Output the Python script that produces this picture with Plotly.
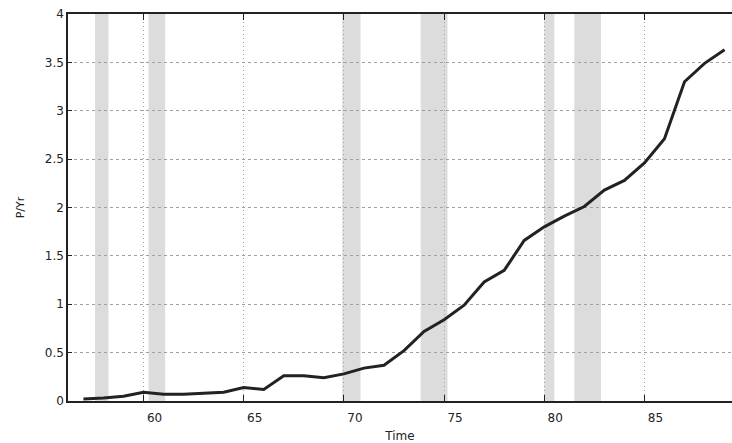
import plotly.graph_objects as go

# Annual series (years 19xx)
years = list(range(57, 90))
p_per_yr = [0.02, 0.03, 0.05, 0.09, 0.07, 0.07, 0.08, 0.09, 0.14, 0.12,
            0.26, 0.26, 0.24, 0.28, 0.34, 0.37, 0.52, 0.72, 0.84, 0.99,
            1.23, 1.35, 1.66, 1.80, 1.91, 2.01, 2.18, 2.28, 2.46, 2.71,
            3.30, 3.49, 3.63]

# Shaded periods (recessions), fractional years
shade_start = [57.58, 60.25, 69.92, 73.83, 80.00, 81.50]
shade_end = [58.25, 61.08, 70.83, 75.17, 80.50, 82.83]

x_ticks = [60, 65, 70, 75, 80, 85]
y_ticks = [0, 0.5, 1, 1.5, 2, 2.5, 3, 3.5, 4]

font_family = "DejaVu Sans, Verdana, sans-serif"

fig = go.Figure()

for s, e in zip(shade_start, shade_end):
    fig.add_shape(type="rect", xref="x", yref="paper", x0=s, x1=e, y0=0, y1=1,
                  fillcolor="#dcdcdc", line_width=0, layer="between")

fig.add_trace(go.Scatter(
    x=years, y=p_per_yr, mode="lines",
    line=dict(color="#222222", width=3),
    showlegend=False, hoverinfo="x+y",
))

fig.update_layout(
    width=732, height=443,
    margin=dict(l=68, r=0, t=14, b=42),
    paper_bgcolor="white", plot_bgcolor="white",
    font=dict(family=font_family, size=12, color="#222222"),
)

fig.update_xaxes(
    range=[56.23, 89.37],
    tickmode="array", tickvals=x_ticks, ticktext=[str(v) for v in x_ticks],
    ticks="inside", ticklen=6, tickwidth=1, tickcolor="#222222",
    ticklabelshift=11, ticklabelstandoff=5,
    showline=True, linecolor="#222222", linewidth=1.5, mirror="ticks",
    showgrid=True, gridcolor="#a0a0a0", gridwidth=1, griddash="1px,3px",
    zeroline=False,
    title=dict(text="Time", font=dict(size=12), standoff=8),
)

fig.update_yaxes(
    range=[0, 4],
    tickmode="array", tickvals=y_ticks,
    ticks="inside", ticklen=4, tickwidth=1, tickcolor="#222222",
    showline=True, linecolor="#222222", linewidth=1.5, mirror=False,
    showgrid=True, gridcolor="#a0a0a0", gridwidth=1, griddash="3px,3px",
    zeroline=False,
    title=dict(text="P/Yr", font=dict(size=11), standoff=18),
)

fig.write_html("out.html")
